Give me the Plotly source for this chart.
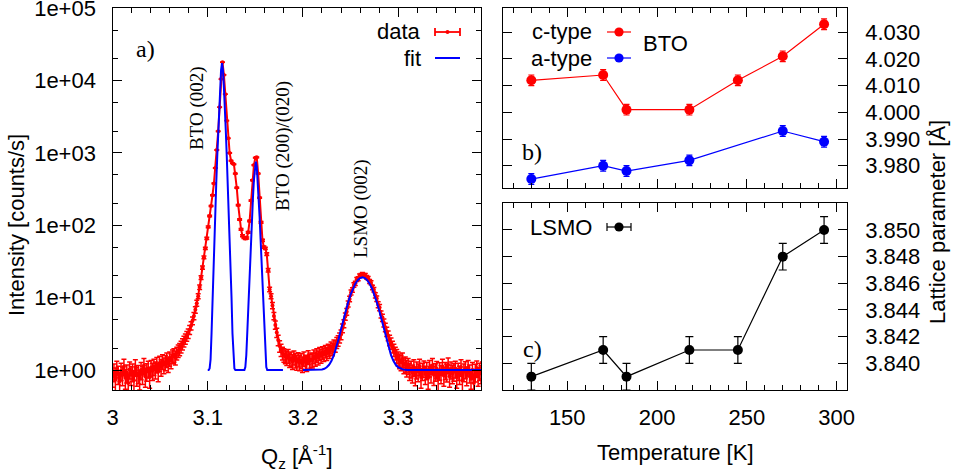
import plotly.graph_objects as go

# ---------------- figure geometry (pixels) ----------------
W, H = 953, 476


def px(x):
    return x / W


def py(y):
    return 1 - y / H


# ---------------- panel a: Qz scan ----------------
q_start, q_step = 3.0, 0.0015
intensity = [
    0.82, 0.95, 0.74, 1.05, 0.88, 0.70, 0.98, 0.85, 1.12, 0.78,
    0.92, 0.66, 1.02, 0.86, 0.95, 0.72, 1.10, 0.84, 0.90, 0.76,
    1.00, 0.88, 1.15, 0.82, 0.96, 1.05, 0.80, 1.08, 0.98, 1.12,
    1.02, 1.20, 0.95, 1.25, 1.10, 1.32, 1.18, 1.28, 1.40, 1.22,
    1.45, 1.35, 1.55, 1.62, 1.50, 1.72, 1.85, 1.95, 2.10, 2.30,
    2.50, 2.70, 2.95, 3.20, 3.60, 4.10, 4.80, 5.60, 6.80, 8.40,
    10.5, 14.0, 19.0, 26.0, 36.0, 48.0, 66.0, 95.0, 135.0, 185.0,
    260, 380, 620, 1100, 2000, 4300, 10500, 18000, 12000, 6500,
    2800, 1600, 1000, 780, 720, 700, 520, 330, 190, 120,
    88, 72, 68, 66, 67, 80, 115, 220, 420, 680,
    860, 870, 520, 240, 110, 62, 50, 48, 40, 24,
    13.0, 10.5, 7.8, 5.6, 4.2, 3.3, 2.6, 2.15, 1.90, 1.72,
    1.62, 1.55, 1.48, 1.58, 1.40, 1.45, 1.32, 1.50, 1.38, 1.30,
    1.42, 1.28, 1.36, 1.22, 1.45, 1.30, 1.25, 1.52, 1.34, 1.40,
    1.38, 1.55, 1.45, 1.62, 1.50, 1.70, 1.58, 1.75, 1.65, 1.82,
    1.70, 1.90, 1.80, 2.05, 1.95, 2.20, 2.15, 2.40, 2.55, 2.80,
    3.10, 3.80, 4.40, 5.50, 6.40, 8.20, 9.60, 11.8, 12.8, 15.0,
    15.8, 17.8, 18.3, 20.1, 20.3, 21.1, 20.4, 20.3, 19.1, 18.5,
    16.8, 16.1, 13.9, 12.9, 10.8, 9.7, 8.0, 7.3, 5.9, 5.3,
    4.5, 3.9, 3.4, 3.0, 2.6, 2.35, 2.10, 1.90, 1.72, 1.58,
    1.45, 1.35, 1.28, 1.40, 1.18, 1.22, 1.08, 1.15, 0.98, 1.05,
    0.92, 1.10, 0.85, 1.02, 0.95, 1.12, 0.80, 0.98, 1.06, 0.88,
    1.00, 0.78, 1.08, 0.92, 1.15, 0.86, 0.96, 1.04, 0.74, 0.99,
    0.90, 1.12, 0.84, 1.00, 0.94, 1.18, 0.82, 1.02, 0.90, 0.96,
    1.05, 0.80, 0.98, 0.88, 1.10, 0.72, 0.95, 1.03, 0.85, 1.08,
    0.92, 0.78, 1.00, 0.66, 0.94, 1.06, 0.84, 0.98, 0.90, 1.02,
]
qz = [round(q_start + q_step * i, 4) for i in range(len(intensity))]
count_time = 14.0  # s per point, counting-statistics error bars
intensity_err = [(v * count_time) ** 0.5 / count_time for v in intensity]

fit_bto_q = [
    3.100, 3.101, 3.102, 3.103, 3.104, 3.105, 3.106, 3.107, 3.108, 3.109,
    3.110, 3.111, 3.112, 3.113, 3.114, 3.115, 3.116, 3.117, 3.118, 3.119,
    3.120, 3.121, 3.122, 3.123, 3.124, 3.125, 3.126, 3.127, 3.128, 3.129,
    3.1385, 3.1395, 3.1405, 3.1415, 3.1425, 3.1435, 3.1445, 3.1455, 3.1465, 3.1475,
    3.1485, 3.1495, 3.1505, 3.1515, 3.1525, 3.1535, 3.1545, 3.1555, 3.1565, 3.1575,
    3.1585, 3.1595, 3.1605, 3.1615, 3.1625, 3.179,
]
fit_bto_i = [
    1.0, 1.0, 1.05, 1.4, 3.2, 10, 28, 70, 180, 400,
    900, 2000, 4500, 8000, 14000, 17400, 14000, 8000, 4500, 2000,
    900, 400, 180, 70, 28, 10, 3.2, 1.4, 1.05, 1.0,
    1.0, 1.1, 1.6, 3.2, 7, 15, 32, 65, 130, 240,
    420, 650, 760, 650, 420, 240, 130, 65, 32, 15,
    7, 3.2, 1.6, 1.1, 1.0, 1.0,
]
fit_lsmo_q = [
    3.2000, 3.2150, 3.2175, 3.2200, 3.2225, 3.2250, 3.2275, 3.2300, 3.2325, 3.2350,
    3.2375, 3.2400, 3.2425, 3.2450, 3.2475, 3.2500, 3.2525, 3.2550, 3.2575, 3.2600,
    3.2625, 3.2650, 3.2675, 3.2700, 3.2725, 3.2750, 3.2775, 3.2800, 3.2825, 3.2850,
    3.2875, 3.2900, 3.2925, 3.2950, 3.2975, 3.3000, 3.3025, 3.3050, 3.3075, 3.3100,
    3.3870,
]
fit_lsmo_i = [
    1.0, 1.0, 1.01, 1.02, 1.04, 1.09, 1.18, 1.34, 1.60, 2.04,
    2.70, 3.67, 4.99, 6.68, 8.73, 11.03, 13.40, 15.63, 17.47, 18.68,
    19.10, 18.68, 17.47, 15.63, 13.40, 11.03, 8.73, 6.68, 4.99, 3.67,
    2.70, 2.04, 1.60, 1.34, 1.18, 1.09, 1.04, 1.02, 1.01, 1.0,
    1.0,
]

intensity_tickvals = [1, 10, 100, 1000, 10000, 100000]
intensity_ticktext = ["1e+00", "1e+01", "1e+02", "1e+03", "1e+04", "1e+05"]
qz_tickvals = [3.0, 3.1, 3.2, 3.3]
qz_ticktext = ["3", "3.1", "3.2", "3.3"]

# ---------------- panels b, c: lattice parameters ----------------
temperature = [130, 170, 183, 218, 245, 270, 293]
bto_c = [4.012, 4.014, 4.001, 4.001, 4.012, 4.021, 4.033]
bto_c_err = [0.002, 0.002, 0.002, 0.002, 0.002, 0.002, 0.002]
temperature_a = [130, 170, 183, 218, 270, 293]
bto_a = [3.975, 3.980, 3.978, 3.982, 3.993, 3.989]
bto_a_err = [0.002, 0.002, 0.002, 0.002, 0.002, 0.002]
lsmo = [3.839, 3.841, 3.839, 3.841, 3.841, 3.848, 3.850]
lsmo_err = [0.001, 0.001, 0.001, 0.001, 0.001, 0.001, 0.001]

temp_tickvals = [150, 200, 250, 300]
bto_tickvals = [3.980, 3.990, 4.000, 4.010, 4.020, 4.030]
lsmo_tickvals = [3.840, 3.842, 3.844, 3.846, 3.848, 3.850]

SANS = "Liberation Sans, Arial, sans-serif"
SERIF = "Liberation Serif, Times New Roman, serif"
FS = 22

fig = go.Figure()

fig.add_trace(go.Scatter(
    x=qz, y=intensity, mode="lines+markers",
    line=dict(color="red", width=2),
    marker=dict(color="red", size=4),
    error_y=dict(type="data", array=intensity_err, color="red",
                 thickness=1.5, width=2.5),
    xaxis="x", yaxis="y", showlegend=False,
))
fig.add_trace(go.Scatter(
    x=fit_bto_q, y=fit_bto_i, mode="lines",
    line=dict(color="blue", width=2),
    xaxis="x", yaxis="y", showlegend=False,
))
fig.add_trace(go.Scatter(
    x=fit_lsmo_q, y=fit_lsmo_i, mode="lines",
    line=dict(color="blue", width=2),
    xaxis="x", yaxis="y", showlegend=False,
))

fig.add_trace(go.Scatter(
    x=temperature, y=bto_c, mode="lines+markers",
    line=dict(color="red", width=1.2),
    marker=dict(color="red", size=10),
    error_y=dict(type="data", array=bto_c_err, color="red",
                 thickness=1.2, width=3),
    xaxis="x2", yaxis="y2", showlegend=False,
))
fig.add_trace(go.Scatter(
    x=temperature_a, y=bto_a, mode="lines+markers",
    line=dict(color="blue", width=1.2),
    marker=dict(color="blue", size=10),
    error_y=dict(type="data", array=bto_a_err, color="blue",
                 thickness=1.2, width=3),
    xaxis="x2", yaxis="y2", showlegend=False,
))
fig.add_trace(go.Scatter(
    x=temperature, y=lsmo, mode="lines+markers",
    line=dict(color="black", width=1.2),
    marker=dict(color="black", size=10),
    error_y=dict(type="data", array=lsmo_err, color="black",
                 thickness=1.2, width=4),
    xaxis="x3", yaxis="y3", showlegend=False,
))

axis_common = dict(
    showline=True, linecolor="black", linewidth=1.3, mirror="ticks",
    ticks="inside", ticklen=9, tickwidth=1.2, tickcolor="black",
    showgrid=False, zeroline=False, automargin=False,
    ticklabeloverflow="allow",
    tickfont=dict(family=SANS, size=FS, color="black"),
)
minor_common = dict(ticks="inside", ticklen=5, tickwidth=1.2,
                    tickcolor="black", showgrid=False)

x_left = [px(112.5), px(481)]
x_right = [px(503.3), px(846.7)]

fig.update_layout(
    width=W, height=H,
    margin=dict(l=0, r=0, t=0, b=0, autoexpand=False),
    paper_bgcolor="white", plot_bgcolor="white",
    showlegend=False,
    xaxis=dict(axis_common, domain=x_left, range=[2.99999, 3.387], anchor="y",
               tickvals=qz_tickvals, ticktext=qz_ticktext,
               ticklabelstandoff=7,
               minor=dict(minor_common, tick0=3.0, dtick=0.02)),
    yaxis=dict(axis_common, domain=[py(390), py(8.3)], type="log",
               range=[-0.2765, 5.0002], anchor="x",
               tickvals=intensity_tickvals, ticktext=intensity_ticktext,
               ticklabelstandoff=11,
               minor=dict(minor_common,
                          tickvals=[2, 5, 20, 50, 200, 500, 2000, 5000,
                                    20000, 50000])),
    xaxis2=dict(axis_common, domain=x_right, range=[114.4, 305.6],
                anchor="y2", tickvals=temp_tickvals, showticklabels=False,
                minor=dict(minor_common, tick0=100, dtick=10)),
    yaxis2=dict(axis_common, domain=[py(188.3), py(8.3)],
                range=[3.97153, 4.0390], anchor="x2", side="right",
                tickvals=bto_tickvals, tickformat=".3f",
                ticklabelstandoff=13),
    xaxis3=dict(axis_common, domain=x_right, range=[114.4, 305.6],
                anchor="y3", tickvals=temp_tickvals,
                ticklabelstandoff=7,
                minor=dict(minor_common, tick0=100, dtick=10)),
    yaxis3=dict(axis_common, domain=[py(390), py(203.3)],
                range=[3.838, 3.852], anchor="x3", side="right",
                tickvals=lsmo_tickvals, tickformat=".3f",
                ticklabelstandoff=13),
)


def label(text, x, y, size=FS, family=SANS, angle=0, xanchor="center"):
    fig.add_annotation(
        text=text, x=px(x), y=py(y), xref="paper", yref="paper",
        showarrow=False, textangle=angle, xanchor=xanchor, yanchor="middle",
        font=dict(family=family, size=size, color="black"),
    )


# axis titles
label("Intensity [counts/s]", 16, 225, angle=-90)
label("Q<sub>z</sub> [Å<sup>-1</sup>]", 297, 456)
label("Temperature [K]", 675, 452)
label("Lattice parameter [Å]", 937, 222, angle=-90)

# panel letters and peak labels
label("a)", 145, 49, size=24, family=SERIF)
label("b)", 532, 152, size=24, family=SERIF)
label("c)", 532, 349, size=24, family=SERIF)
label("BTO (002)", 197, 108, size=19, family=SERIF, angle=-90)
label("BTO (200)/(020)", 283, 146, size=19, family=SERIF, angle=-90)
label("LSMO (002)", 361, 209, size=19, family=SERIF, angle=-90)

# key texts
label("data", 423, 32, xanchor="right")
label("fit", 423, 58, xanchor="right")
label("c-type", 594, 32, xanchor="right")
label("a-type", 594, 58, xanchor="right")
label("BTO", 641, 43, xanchor="left")
label("LSMO", 594, 227, xanchor="right")


def seg(x0, y0, x1, y1, color, width):
    fig.add_shape(type="line", xref="paper", yref="paper",
                  x0=px(x0), y0=py(y0), x1=px(x1), y1=py(y1),
                  line=dict(color=color, width=width))


def dot(xc, yc, r, color):
    fig.add_shape(type="circle", xref="paper", yref="paper",
                  x0=px(xc - r), x1=px(xc + r), y0=py(yc + r), y1=py(yc - r),
                  fillcolor=color, line=dict(color=color, width=0))


# key symbols
seg(435, 32, 460, 32, "red", 1.8)
seg(435, 28, 435, 36, "red", 1.8)
seg(460, 28, 460, 36, "red", 1.8)
dot(447.5, 32, 2.0, "red")
seg(435, 58, 460, 58, "blue", 2)
seg(607, 32, 631, 32, "red", 1.2)
dot(619, 32, 4.6, "red")
seg(607, 58, 631, 58, "blue", 1.2)
dot(619, 58, 4.6, "blue")
seg(607, 227, 631, 227, "black", 1.2)
seg(607, 223, 607, 231, "black", 1.2)
seg(631, 223, 631, 231, "black", 1.2)
dot(619, 227, 4.6, "black")

fig.write_html("out.html")
